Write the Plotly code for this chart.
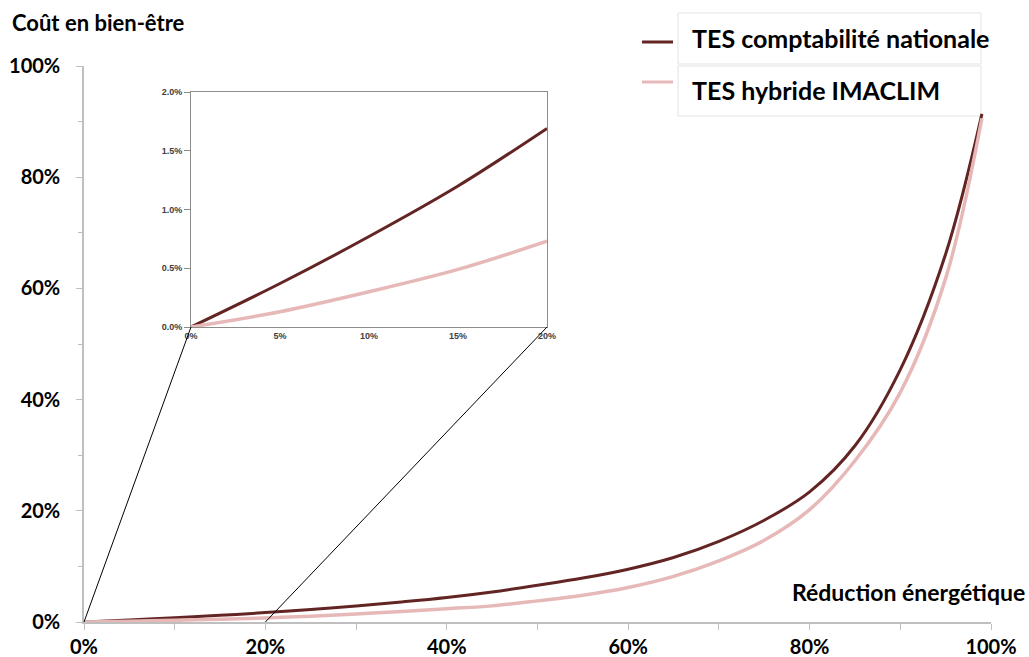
import plotly.graph_objects as go

# ---- data (percent) ----
reduction = [0, 5, 10, 15, 20, 25, 30, 35, 40, 45, 50, 55, 60, 65, 70, 75, 80, 85, 90, 95, 99]
tes_compta = [0, 0.37, 0.77, 1.20, 1.69, 2.25, 2.9, 3.6, 4.4, 5.4, 6.6, 7.9, 9.5, 11.6, 14.5, 18.3,
              23.4, 31.7, 45.4, 66.2, 91.4]
tes_hybride = [0, 0.13, 0.30, 0.49, 0.73, 1.05, 1.45, 1.9, 2.4, 2.9, 3.8, 4.8, 6.2, 8.2, 11.0, 14.7,
               20.2, 29.0, 41.3, 61.8, 90.6]
series_names = ["TES comptabilité nationale", "TES hybride IMACLIM"]
series_colors = ["#632523", "#E6B9B8"]
main_ticks = [0, 20, 40, 60, 80, 100]
main_ticktext = ["0%", "20%", "40%", "60%", "80%", "100%"]
inset_xticks = [0, 5, 10, 15, 20]
inset_xticktext = ["0%", "5%", "10%", "15%", "20%"]
inset_yticks = [0.0, 0.5, 1.0, 1.5, 2.0]
inset_yticktext = ["0.0%", "0.5%", "1.0%", "1.5%", "2.0%"]
inset_xmax = 20
inset_ymax = 2.0

W, H = 1029, 657
ML, MR, MT, MB = 84, 38, 66, 35
PW, PH = W - ML - MR, H - MT - MB


def px(xp):
    return (xp - ML) / PW


def py(yp):
    return (H - MB - yp) / PH


inset_dx = [px(191), px(547)]
inset_dy = [py(327), py(92)]

fig = go.Figure()
series = [tes_compta, tes_hybride]
widths = [3, 3.5]
for name, vals, col, w in zip(series_names, series, series_colors, widths):
    fig.add_trace(go.Scatter(x=reduction, y=vals, mode="lines", name=name,
                             line=dict(color=col, width=w, shape="spline", smoothing=1.0),
                             xaxis="x", yaxis="y", showlegend=False))
for name, vals, col, w in zip(series_names, series, series_colors, widths):
    xs = [r for r in reduction if r <= inset_xmax]
    ys = vals[:len(xs)]
    fig.add_trace(go.Scatter(x=xs, y=ys, mode="lines", name=name,
                             line=dict(color=col, width=w, shape="spline", smoothing=1.0),
                             xaxis="x2", yaxis="y2", showlegend=False, cliponaxis=False))

big = dict(family="Lato", size=20, color="black", weight="bold")
small = dict(family="Liberation Sans", size=9, color="#404040", weight="bold")
axis_gray = "#BFBFBF"

fig.update_layout(
    width=W, height=H,
    margin=dict(l=ML, r=MR, t=MT, b=MB, autoexpand=False),
    paper_bgcolor="white", plot_bgcolor="white",
    xaxis=dict(domain=[0, 1], range=[0, 100], tickmode="array", tickvals=main_ticks,
               ticktext=main_ticktext, automargin=False,
               showline=True, linecolor=axis_gray, linewidth=1.5, ticks="outside",
               ticklen=6, tickcolor=axis_gray, tickwidth=1,
               minor=dict(dtick=10, ticks="outside", ticklen=6, tickcolor=axis_gray),
               showgrid=False, zeroline=False, tickfont=big, ticklabelstandoff=0),
    yaxis=dict(domain=[0, 1], range=[0, 100], tickmode="array", tickvals=main_ticks,
               ticktext=main_ticktext, automargin=False,
               showline=True, linecolor=axis_gray, linewidth=1.5, ticks="outside",
               ticklen=6, tickcolor=axis_gray, tickwidth=1,
               minor=dict(dtick=10, ticks="outside", ticklen=4, tickcolor=axis_gray),
               showgrid=False, zeroline=False, tickfont=big, ticklabelstandoff=12),
    xaxis2=dict(domain=inset_dx, anchor="y2", range=[0, inset_xmax], tickmode="array",
                tickvals=inset_xticks, ticktext=inset_xticktext, automargin=False,
                showline=True, mirror=True, linecolor="#8C8C8C", linewidth=1,
                ticks="", showgrid=False, zeroline=False, tickfont=small),
    yaxis2=dict(domain=inset_dy, anchor="x2", range=[0, inset_ymax], tickmode="array",
                tickvals=inset_yticks, ticktext=inset_yticktext, automargin=False,
                showline=True, mirror=True,
                linecolor="#8C8C8C", linewidth=1, ticks="outside", ticklen=6,
                tickcolor="#8C8C8C", showgrid=False, zeroline=False, tickfont=small),
)

# zoom connector lines: inset bottom corners -> main axis at 0 and inset_xmax
fig.add_shape(type="line", xref="paper", yref="paper",
              x0=inset_dx[0], y0=inset_dy[0], x1=0 / 100, y1=0,
              line=dict(color="black", width=1))
fig.add_shape(type="line", xref="paper", yref="paper",
              x0=inset_dx[1], y0=inset_dy[0], x1=inset_xmax / 100, y1=0,
              line=dict(color="black", width=1))

# legend (boxed items)
leg_boxes = [(13, 64), (66, 116)]
leg_line_y = [42, 82]
leg_text_y = [38, 90]
for i, name in enumerate(series_names):
    y0, y1 = leg_boxes[i]
    fig.add_shape(type="rect", xref="paper", yref="paper",
                  x0=px(678), x1=px(981), y0=py(y1), y1=py(y0),
                  line=dict(color="#E3E3E3", width=1), fillcolor="white", layer="below")
    fig.add_shape(type="line", xref="paper", yref="paper",
                  x0=px(642), x1=px(673), y0=py(leg_line_y[i]), y1=py(leg_line_y[i]),
                  line=dict(color=series_colors[i], width=3))
    fig.add_annotation(xref="paper", yref="paper", x=px(690), y=py(leg_text_y[i]),
                       xanchor="left", yanchor="middle", showarrow=False, text=name,
                       font=dict(family="Lato", size=25, color="black", weight="bold"))

fig.add_annotation(xref="paper", yref="paper", x=px(10), y=py(22), xanchor="left",
                   yanchor="middle", showarrow=False, text="Coût en bien-être",
                   font=dict(family="Lato", size=22, color="black", weight="bold"))
fig.add_annotation(xref="paper", yref="paper", x=px(1027), y=py(592), xanchor="right",
                   yanchor="middle", showarrow=False, text="Réduction énergétique",
                   font=dict(family="Lato", size=23, color="black", weight="bold"))

fig.write_html("out.html", config={"displayModeBar": False},
               post_script="document.body.style.margin='0';")
